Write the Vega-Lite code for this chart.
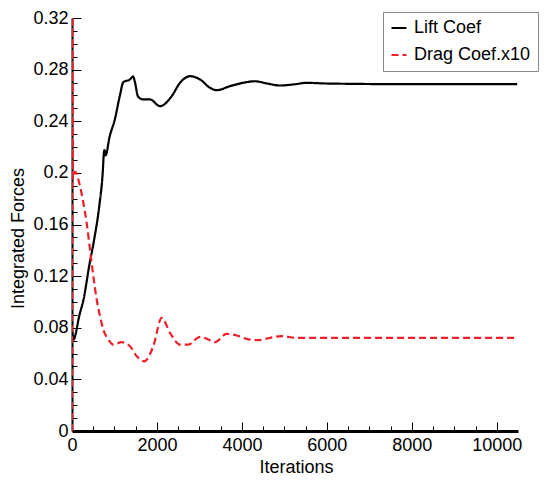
{
  "$schema": "https://vega.github.io/schema/vega-lite/v6.json",
  "width": 446,
  "height": 413,
  "autosize": {"type": "none"},
  "padding": {"left": 72, "top": 18, "right": 28, "bottom": 56},
  "background": "white",
  "config": {"view": {"stroke": null}, "font": "Liberation Sans"},
  "data": {"values": [
    {"it": 0, "v": 0.078, "s": "Lift Coef"},
    {"it": 42, "v": 0.071, "s": "Lift Coef"},
    {"it": 84, "v": 0.075, "s": "Lift Coef"},
    {"it": 160, "v": 0.0876, "s": "Lift Coef"},
    {"it": 282, "v": 0.1035, "s": "Lift Coef"},
    {"it": 402, "v": 0.1274, "s": "Lift Coef"},
    {"it": 523, "v": 0.1486, "s": "Lift Coef"},
    {"it": 645, "v": 0.1751, "s": "Lift Coef"},
    {"it": 726, "v": 0.2017, "s": "Lift Coef"},
    {"it": 749, "v": 0.2149, "s": "Lift Coef"},
    {"it": 765, "v": 0.2176, "s": "Lift Coef"},
    {"it": 789, "v": 0.2136, "s": "Lift Coef"},
    {"it": 887, "v": 0.2282, "s": "Lift Coef"},
    {"it": 1008, "v": 0.2414, "s": "Lift Coef"},
    {"it": 1128, "v": 0.26, "s": "Lift Coef"},
    {"it": 1208, "v": 0.2703, "s": "Lift Coef"},
    {"it": 1365, "v": 0.2724, "s": "Lift Coef"},
    {"it": 1436, "v": 0.2747, "s": "Lift Coef"},
    {"it": 1484, "v": 0.27, "s": "Lift Coef"},
    {"it": 1554, "v": 0.2592, "s": "Lift Coef"},
    {"it": 1672, "v": 0.2569, "s": "Lift Coef"},
    {"it": 1836, "v": 0.2569, "s": "Lift Coef"},
    {"it": 2072, "v": 0.2517, "s": "Lift Coef"},
    {"it": 2347, "v": 0.2594, "s": "Lift Coef"},
    {"it": 2543, "v": 0.2698, "s": "Lift Coef"},
    {"it": 2778, "v": 0.2749, "s": "Lift Coef"},
    {"it": 3014, "v": 0.2724, "s": "Lift Coef"},
    {"it": 3249, "v": 0.2659, "s": "Lift Coef"},
    {"it": 3406, "v": 0.2641, "s": "Lift Coef"},
    {"it": 3720, "v": 0.2672, "s": "Lift Coef"},
    {"it": 4033, "v": 0.2698, "s": "Lift Coef"},
    {"it": 4308, "v": 0.271, "s": "Lift Coef"},
    {"it": 4584, "v": 0.2693, "s": "Lift Coef"},
    {"it": 4897, "v": 0.2677, "s": "Lift Coef"},
    {"it": 5210, "v": 0.2685, "s": "Lift Coef"},
    {"it": 5525, "v": 0.2698, "s": "Lift Coef"},
    {"it": 5917, "v": 0.2693, "s": "Lift Coef"},
    {"it": 6545, "v": 0.269, "s": "Lift Coef"},
    {"it": 7350, "v": 0.2688, "s": "Lift Coef"},
    {"it": 8900, "v": 0.2688, "s": "Lift Coef"},
    {"it": 10480, "v": 0.2688, "s": "Lift Coef"},
    {"it": 0, "v": 0.0, "s": "Drag Coef.x10"},
    {"it": 8, "v": 0.33, "s": "Drag Coef.x10"},
    {"it": 21, "v": 0.195, "s": "Drag Coef.x10"},
    {"it": 70, "v": 0.201, "s": "Drag Coef.x10"},
    {"it": 188, "v": 0.1897, "s": "Drag Coef.x10"},
    {"it": 267, "v": 0.1768, "s": "Drag Coef.x10"},
    {"it": 345, "v": 0.1613, "s": "Drag Coef.x10"},
    {"it": 424, "v": 0.1406, "s": "Drag Coef.x10"},
    {"it": 502, "v": 0.12, "s": "Drag Coef.x10"},
    {"it": 581, "v": 0.1019, "s": "Drag Coef.x10"},
    {"it": 659, "v": 0.089, "s": "Drag Coef.x10"},
    {"it": 737, "v": 0.0786, "s": "Drag Coef.x10"},
    {"it": 855, "v": 0.0709, "s": "Drag Coef.x10"},
    {"it": 972, "v": 0.067, "s": "Drag Coef.x10"},
    {"it": 1170, "v": 0.0688, "s": "Drag Coef.x10"},
    {"it": 1365, "v": 0.0657, "s": "Drag Coef.x10"},
    {"it": 1524, "v": 0.058, "s": "Drag Coef.x10"},
    {"it": 1701, "v": 0.054, "s": "Drag Coef.x10"},
    {"it": 1914, "v": 0.0657, "s": "Drag Coef.x10"},
    {"it": 2112, "v": 0.0877, "s": "Drag Coef.x10"},
    {"it": 2307, "v": 0.0761, "s": "Drag Coef.x10"},
    {"it": 2543, "v": 0.067, "s": "Drag Coef.x10"},
    {"it": 2738, "v": 0.067, "s": "Drag Coef.x10"},
    {"it": 3014, "v": 0.073, "s": "Drag Coef.x10"},
    {"it": 3209, "v": 0.0709, "s": "Drag Coef.x10"},
    {"it": 3366, "v": 0.0688, "s": "Drag Coef.x10"},
    {"it": 3641, "v": 0.0753, "s": "Drag Coef.x10"},
    {"it": 3878, "v": 0.074, "s": "Drag Coef.x10"},
    {"it": 4113, "v": 0.0714, "s": "Drag Coef.x10"},
    {"it": 4386, "v": 0.0704, "s": "Drag Coef.x10"},
    {"it": 4661, "v": 0.0722, "s": "Drag Coef.x10"},
    {"it": 4937, "v": 0.0735, "s": "Drag Coef.x10"},
    {"it": 5290, "v": 0.0722, "s": "Drag Coef.x10"},
    {"it": 6074, "v": 0.0722, "s": "Drag Coef.x10"},
    {"it": 7350, "v": 0.0722, "s": "Drag Coef.x10"},
    {"it": 8900, "v": 0.0722, "s": "Drag Coef.x10"},
    {"it": 10480, "v": 0.0722, "s": "Drag Coef.x10"}
  ]},
  "mark": {"type": "line", "interpolate": "monotone", "clip": true, "strokeWidth": 2.2},
  "encoding": {
    "x": {
      "field": "it", "type": "quantitative",
      "scale": {"domain": [0, 10500], "nice": false, "zero": false},
      "axis": {
        "values": [0,500,1000,1500,2000,2500,3000,3500,4000,4500,5000,5500,6000,6500,7000,7500,8000,8500,9000,9500,10000],
        "labelExpr": "datum.value % 2000 === 0 ? format(datum.value, 'd') : ''",
        "tickSize": {"condition": {"test": "datum.value % 2000 === 0", "value": -9}, "value": -5},
        "labelPadding": 14,
        "labelFontSize": 18, "labelColor": "black", "labelFont": "Liberation Sans",
        "labelFlush": false, "labelOverlap": false, "labelBound": false,
        "domainColor": "black", "domainWidth": 3,
        "tickColor": "black", "tickWidth": 1,
        "grid": false,
        "title": "Iterations", "titleFontSize": 18, "titleFontWeight": "normal", "titleColor": "black", "titleFont": "Liberation Sans",
        "titleX": 224, "titleY": 36, "titleBaseline": "middle", "titleAlign": "center"
      }
    },
    "y": {
      "field": "v", "type": "quantitative",
      "scale": {"domain": [0, 0.32], "nice": false},
      "axis": {
        "values": [0,0.01,0.02,0.03,0.04,0.05,0.06,0.07,0.08,0.09,0.1,0.11,0.12,0.13,0.14,0.15,0.16,0.17,0.18,0.19,0.2,0.21,0.22,0.23,0.24,0.25,0.26,0.27,0.28,0.29,0.3,0.31,0.32],
        "labelExpr": "round(datum.value*100) % 4 === 0 ? format(datum.value, '~g') : ''",
        "tickSize": {"condition": {"test": "round(datum.value*100) % 4 === 0", "value": -9}, "value": -5},
        "labelPadding": 13,
        "labelFontSize": 18, "labelColor": "black", "labelFont": "Liberation Sans",
        "labelFlush": false, "labelOverlap": false, "labelBound": false,
        "domainColor": "black", "domainWidth": 2,
        "tickColor": "black", "tickWidth": 1,
        "grid": false,
        "title": "Integrated Forces", "titleFontSize": 18, "titleFontWeight": "normal", "titleColor": "black", "titleFont": "Liberation Sans",
        "titleX": -54, "titleY": 220, "titleAngle": 270, "titleBaseline": "middle", "titleAlign": "center"
      }
    },
    "color": {
      "field": "s", "type": "nominal",
      "scale": {"domain": ["Lift Coef", "Drag Coef.x10"], "range": ["black", "#f01e28"]},
      "legend": {
        "title": null, "orient": "none", "legendX": 311, "legendY": -6, "direction": "vertical",
        "labelFont": "Liberation Sans", "labelFontSize": 18, "labelColor": "black", "labelLimit": 300,
        "symbolType": "stroke", "symbolSize": 225, "symbolStrokeWidth": 2,
        "labelOffset": 6, "padding": 7, "rowPadding": 9,
        "fillColor": "white", "strokeColor": "#888888"
      }
    },
    "strokeDash": {
      "field": "s", "type": "nominal",
      "scale": {"domain": ["Lift Coef", "Drag Coef.x10"], "range": [[1, 0], [7, 4]]},
      "legend": {
        "title": null, "orient": "none", "legendX": 311, "legendY": -6, "direction": "vertical",
        "labelFont": "Liberation Sans", "labelFontSize": 18, "labelColor": "black", "labelLimit": 300,
        "symbolType": "stroke", "symbolSize": 225, "symbolStrokeWidth": 2,
        "labelOffset": 6, "padding": 7, "rowPadding": 9,
        "fillColor": "white", "strokeColor": "#888888"
      }
    }
  }
}
